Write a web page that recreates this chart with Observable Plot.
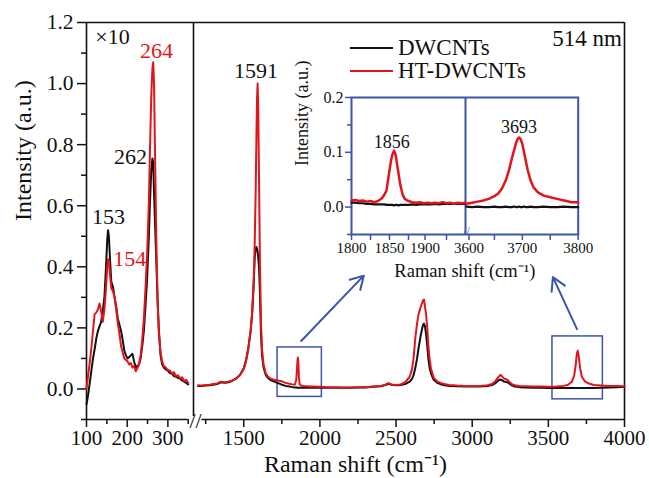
<!DOCTYPE html>
<html><head><meta charset="utf-8">
<script src="https://cdn.jsdelivr.net/npm/d3@7"></script>
<script src="https://cdn.jsdelivr.net/npm/@observablehq/plot@0.6"></script>
<style>
html,body{margin:0;padding:0;background:#fff;}
#wrap{position:relative;width:649px;height:478px;font-family:"Liberation Serif","Times New Roman",serif;}
#wrap svg{position:absolute;left:0;top:0;}
.legend{position:absolute;left:350px;top:36px;font-size:23px;line-height:23.4px;color:#111;}
.legend div{display:flex;align-items:center;height:23.4px;}
.legend .sw{display:inline-block;width:43px;height:2px;margin-right:5px;}
</style></head><body><div id="wrap"></div>
<script>
// ---------- data ----------
const seriesNames = ["DWCNTs", "HT-DWCNTs"];
const seriesColors = ["#111111", "#e3151c"];
const boxColor = "#3a56a8";

// low-frequency (RBM) region, shown x10
const lowShift = [100,104,108,112,116,120,124,128,132,136,140,144,148,151,153,155,158,161,165,169,173,177,181,185,189,193,197,201,205,209,213,217,221,225,229,233,237,241,245,249,253,256,259,262,264,266,269,272,275,278,282,286,290,295,300,305,310,315,320,325,330,335,340,345,350];
const lowDW = [-0.05,-0.02,0.02,0.06,0.10,0.13,0.165,0.19,0.205,0.22,0.255,0.30,0.40,0.49,0.52,0.50,0.42,0.35,0.335,0.30,0.27,0.23,0.21,0.19,0.16,0.125,0.11,0.10,0.105,0.11,0.115,0.09,0.07,0.075,0.08,0.10,0.14,0.19,0.27,0.36,0.49,0.61,0.71,0.755,0.74,0.64,0.52,0.40,0.28,0.19,0.11,0.08,0.07,0.064,0.06,0.052,0.05,0.042,0.04,0.036,0.034,0.028,0.024,0.02,0.015];
const lowHT = [0.0,0.045,0.085,0.135,0.19,0.245,0.25,0.26,0.28,0.255,0.22,0.26,0.33,0.40,0.425,0.42,0.37,0.33,0.32,0.30,0.26,0.215,0.18,0.14,0.12,0.10,0.095,0.09,0.08,0.085,0.07,0.075,0.058,0.068,0.08,0.11,0.16,0.23,0.33,0.44,0.60,0.78,0.95,1.05,1.07,1.0,0.72,0.46,0.28,0.18,0.12,0.09,0.075,0.07,0.062,0.06,0.05,0.055,0.042,0.045,0.035,0.038,0.026,0.03,0.02];

// high-frequency region
const highShift = [1200,1225,1250,1275,1300,1325,1350,1375,1400,1425,1450,1475,1500,1515,1530,1545,1555,1565,1572,1578,1583,1587,1591,1595,1600,1606,1613,1620,1630,1645,1660,1680,1700,1725,1750,1775,1800,1820,1835,1845,1850,1853,1856,1859,1862,1867,1875,1890,1910,1930,1960,2000,2050,2100,2150,2200,2250,2300,2350,2400,2430,2450,2470,2500,2530,2560,2590,2605,2615,2627,2638,2648,2660,2670,2677,2683,2690,2697,2705,2712,2720,2730,2747,2770,2800,2850,2900,2950,3000,3050,3100,3130,3150,3170,3185,3195,3210,3230,3245,3260,3280,3310,3350,3400,3450,3500,3550,3600,3630,3655,3670,3680,3687,3693,3700,3708,3720,3740,3770,3800,3850,3900,3950,4000];
const highDW = [0.010,0.010,0.011,0.012,0.014,0.016,0.022,0.020,0.022,0.027,0.034,0.046,0.068,0.095,0.135,0.19,0.245,0.34,0.43,0.46,0.465,0.46,0.45,0.43,0.40,0.32,0.18,0.11,0.07,0.045,0.035,0.028,0.024,0.019,0.014,0.010,0.008,0.006,0.005,0.005,0.004,0.004,0.004,0.004,0.004,0.004,0.004,0.004,0.004,0.004,0.004,0.004,0.004,0.004,0.004,0.004,0.005,0.005,0.007,0.009,0.013,0.017,0.014,0.012,0.013,0.016,0.024,0.033,0.045,0.07,0.10,0.135,0.17,0.195,0.21,0.214,0.205,0.18,0.14,0.10,0.07,0.05,0.03,0.02,0.014,0.010,0.009,0.008,0.008,0.008,0.010,0.013,0.018,0.027,0.031,0.029,0.024,0.022,0.017,0.012,0.008,0.006,0.005,0.004,0.004,0.003,0.003,0.003,0.003,0.003,0.003,0.003,0.003,0.003,0.003,0.003,0.003,0.003,0.003,0.003,0.004,0.005,0.006,0.007];
const highHT = [0.012,0.011,0.013,0.014,0.016,0.018,0.024,0.022,0.024,0.028,0.034,0.045,0.065,0.09,0.13,0.19,0.25,0.35,0.48,0.64,0.82,0.95,1.0,0.92,0.70,0.42,0.22,0.13,0.08,0.05,0.04,0.033,0.030,0.028,0.025,0.020,0.017,0.015,0.014,0.030,0.070,0.095,0.103,0.080,0.040,0.016,0.011,0.010,0.009,0.008,0.008,0.007,0.006,0.006,0.005,0.005,0.006,0.006,0.008,0.010,0.014,0.019,0.015,0.013,0.015,0.022,0.040,0.065,0.10,0.17,0.215,0.245,0.265,0.28,0.29,0.293,0.27,0.245,0.20,0.14,0.10,0.065,0.037,0.025,0.018,0.013,0.011,0.010,0.010,0.010,0.012,0.016,0.024,0.038,0.046,0.042,0.034,0.030,0.023,0.016,0.012,0.010,0.009,0.008,0.008,0.007,0.008,0.010,0.014,0.024,0.045,0.080,0.115,0.125,0.105,0.070,0.040,0.025,0.017,0.013,0.011,0.010,0.010,0.009];

// inset (zoom of the two new bands)
const insetLShift = [1800,1805,1810,1815,1820,1825,1830,1835,1840,1843,1846,1849,1852,1854,1856,1858,1860,1862,1864,1867,1870,1875,1880,1885,1890,1895,1900,1905,1910,1915,1920,1925,1930,1935,1940,1945,1950];
const insetLDW = [0.008,0.008,0.007,0.007,0.006,0.006,0.005,0.005,0.005,0.005,0.004,0.004,0.004,0.004,0.003,0.004,0.004,0.003,0.004,0.004,0.004,0.004,0.005,0.004,0.005,0.005,0.005,0.005,0.006,0.005,0.006,0.006,0.006,0.006,0.006,0.006,0.006];
const insetLHT = [0.012,0.013,0.011,0.012,0.010,0.011,0.009,0.011,0.016,0.022,0.030,0.058,0.085,0.097,0.103,0.096,0.078,0.060,0.042,0.024,0.015,0.011,0.009,0.008,0.009,0.007,0.008,0.007,0.008,0.007,0.009,0.007,0.008,0.006,0.008,0.007,0.008];
const insetRShift = [3600,3610,3620,3630,3640,3650,3657,3664,3670,3676,3681,3685,3689,3692,3694,3697,3700,3703,3706,3710,3715,3720,3728,3738,3750,3762,3775,3788,3800];
const insetRDW = [0.001,0.0,0.001,0.0,0.0,0.001,0.0,0.0,0.001,0.0,0.0,0.001,0.0,0.0,0.001,0.0,0.0,0.001,0.0,0.0,0.001,0.0,0.0,0.001,0.0,0.0,0.001,0.0,0.0];
const insetRHT = [0.006,0.008,0.010,0.012,0.015,0.020,0.025,0.035,0.048,0.067,0.088,0.103,0.118,0.125,0.127,0.124,0.115,0.100,0.085,0.066,0.048,0.036,0.027,0.021,0.018,0.015,0.012,0.009,0.009];

// axis ticks
const mainMajorX = [100,200,300,1500,2000,2500,3000,3500,4000];
const mainMinorX = [150,250,350,1250,1750,2250,2750,3250,3750];
const mainMajorY = [0,0.2,0.4,0.6,0.8,1.0,1.2];
const mainMinorY = [-0.1,0.1,0.3,0.5,0.7,0.9,1.1];
const insetLeftTicks = [1800,1850];
const insetBreakLeftTick = [1900];
const insetBreakRightTick = [3600];
const insetRightTicks = [3700,3800];
const insetMinorX = [1825,1875,1925,3650,3750];
const insetMajorY = [0,0.1,0.2];
const insetMinorY = [-0.05,0.05,0.15];

// annotations (data units)
const peakLabels = [
  {t:"153", x:154, y:0.562, c:0},
  {t:"262", x:208, y:0.759, c:0},
  {t:"264", x:272, y:1.107, c:1},
  {t:"154", x:206, y:0.427, c:1},
  {t:"1591", x:1581, y:1.041, c:0}
];
const zoomBoxes = [
  {x1:1722, x2:2013, y1:-0.026, y2:0.136},
  {x1:3527, x2:3858, y1:-0.034, y2:0.172}
];
const zoomArrows = [
  {x1:1877, y1:0.157, x2:2288, y2:0.371},
  {x1:3688, y1:0.196, x2:3530, y2:0.366}
];
const insetLabels = [
  {t:"1856", x:1853, y:0.118},
  {t:"3693", x:3694, y:0.145}
];

// ---------- build ----------
const fontFam = '"Liberation Serif","Times New Roman",serif';
const rows = (xs, ys, s, part) => xs.map((x, i) => ({x, y: ys[i], s, part}));
const mainDW = [...rows(lowShift, lowDW, 0, "low"), ...rows(highShift, highDW, 0, "high")];
const mainHT = [...rows(lowShift, lowHT, 1, "low"), ...rows(highShift, highHT, 1, "high")];
const insDW = [...rows(insetLShift, insetLDW, 0, "l"), ...rows(insetRShift, insetRDW, 0, "r")];
const insHT = [...rows(insetLShift, insetLHT, 1, "l"), ...rows(insetRShift, insetRHT, 1, "r")];

const main = Plot.plot({
  width: 649, height: 478,
  marginLeft: 86, marginRight: 25, marginTop: 22, marginBottom: 59,
  x: {type: "linear", domain: [100, 363, 1170, 4000], range: [86, 193, 193, 624], label: null},
  y: {domain: [-0.1, 1.2], label: null},
  style: {fontFamily: fontFam, fontSize: "21px", color: "#111", background: "white", overflow: "visible"},
  marks: [
    Plot.ruleY([1.2], {x1: 100, x2: 4000, strokeWidth: 1.6}),
    Plot.ruleY([-0.1], {x1: 100, x2: 350, strokeWidth: 1.6}),
    Plot.ruleY([-0.1], {x1: 1225, x2: 4000, strokeWidth: 1.6}),
    Plot.ruleX([100], {y1: -0.1, y2: 1.2, strokeWidth: 1.6}),
    Plot.ruleX([4000], {y1: -0.1, y2: 1.2, strokeWidth: 1.6}),
    Plot.ruleX([1170], {y1: -0.09, y2: 1.2, strokeWidth: 1.6}),
    Plot.text([{x: 1170, y: -0.1}], {x: "x", y: "y", text: () => "//", fontSize: 22, dx: 2, dy: 1}),
    Plot.axisX(mainMajorX, {anchor: "bottom", tickSize: 8, tickPadding: 3, strokeWidth: 1.5, tickFormat: d3.format("d"), fontSize: 21, label: null}),
    Plot.axisX(mainMinorX, {anchor: "bottom", tickSize: 5, strokeWidth: 1.5, fill: "none", label: null}),
    Plot.axisY(mainMajorY, {anchor: "left", tickSize: 9, tickPadding: 4, strokeWidth: 1.5, tickFormat: d3.format(".1f"), fontSize: 21.5, label: null}),
    Plot.axisY(mainMinorY, {anchor: "left", tickSize: 5, strokeWidth: 1.5, fill: "none", label: null}),
    Plot.text(["Raman shift (cm\u207B\u00B9)"], {frameAnchor: "bottom", text: d => d, dy: 45, lineAnchor: "middle", fontSize: 24}),
    Plot.text(["Intensity (a.u.)"], {frameAnchor: "left", text: d => d, rotate: -90, dx: -63, lineAnchor: "middle", fontSize: 24}),
    Plot.rect(zoomBoxes, {x1: "x1", x2: "x2", y1: "y1", y2: "y2", fill: "none", stroke: boxColor, strokeWidth: 1.5}),
    Plot.arrow(zoomArrows, {x1: "x1", y1: "y1", x2: "x2", y2: "y2", stroke: boxColor, strokeWidth: 2, headLength: 11}),
    Plot.line(mainDW, {x: "x", y: "y", z: "part", stroke: seriesColors[0], strokeWidth: 2}),
    Plot.line(mainHT, {x: "x", y: "y", z: "part", stroke: seriesColors[1], strokeWidth: 2}),
    Plot.text(peakLabels, {x: "x", y: "y", text: "t", fill: d => seriesColors[d.c], fontSize: 22}),
    Plot.text([{x: 164, y: 1.153}], {x: "x", y: "y", text: () => "\u00D710", fontSize: 22}),
    Plot.text([{x: 3755, y: 1.146}], {x: "x", y: "y", text: () => "514 nm", fontSize: 23})
  ]
});

const insetTickOpts = {anchor: "bottom", tickSize: 6, tickPadding: 2, stroke: boxColor, fill: "#111", strokeWidth: 1.5, tickFormat: d3.format("d"), fontSize: 15, label: null};
const inset = Plot.plot({
  width: 310, height: 200,
  marginLeft: 71, marginRight: 12.3, marginTop: 12, marginBottom: 51,
  x: {type: "linear", domain: [1800, 1950, 3600, 3800], range: [71, 185, 186, 297.7], label: null},
  y: {domain: [-0.05, 0.2], label: null},
  style: {fontFamily: fontFam, fontSize: "15px", color: "#111", background: "transparent", overflow: "visible"},
  marks: [
    Plot.frame({stroke: boxColor, strokeWidth: 2}),
    Plot.ruleX([1950], {stroke: boxColor, strokeWidth: 2}),
    Plot.text([{x: 1950, y: -0.05}], {x: "x", y: "y", text: () => "//", fill: boxColor, fontSize: 12, dx: 1, dy: -3}),
    Plot.axisX(insetLeftTicks, insetTickOpts),
    Plot.axisX(insetRightTicks, insetTickOpts),
    Plot.axisX(insetBreakLeftTick, {...insetTickOpts, dx: -2.5}),
    Plot.axisX(insetBreakRightTick, {...insetTickOpts, dx: 2.5}),
    Plot.axisX(insetMinorX, {anchor: "bottom", tickSize: 6, stroke: boxColor, fill: "none", strokeWidth: 1.5, label: null}),
    Plot.axisY(insetMajorY, {anchor: "left", tickSize: 6, tickPadding: 2, stroke: boxColor, fill: "#111", strokeWidth: 1.5, tickFormat: d3.format(".1f"), fontSize: 16, label: null}),
    Plot.axisY(insetMinorY, {anchor: "left", tickSize: 4, stroke: boxColor, fill: "none", strokeWidth: 1.5, label: null}),
    Plot.text(["Raman shift (cm\u207B\u00B9)"], {frameAnchor: "bottom", text: d => d, dy: 37, lineAnchor: "middle", fontSize: 18.5}),
    Plot.text(["Intensity (a.u.)"], {frameAnchor: "left", text: d => d, rotate: -90, dx: -49, lineAnchor: "middle", fontSize: 18}),
    Plot.line(insDW, {x: "x", y: "y", z: "part", stroke: seriesColors[0], strokeWidth: 2.2}),
    Plot.line(insHT, {x: "x", y: "y", z: "part", stroke: seriesColors[1], strokeWidth: 2.5}),
    Plot.text(insetLabels, {x: "x", y: "y", text: "t", fontSize: 18})
  ]
});
inset.style.left = "280px";
inset.style.top = "85px";

const wrap = document.getElementById("wrap");
wrap.appendChild(main);
wrap.appendChild(inset);

const legend = document.createElement("div");
legend.className = "legend";
seriesNames.forEach((n, i) => {
  const row = document.createElement("div");
  const sw = document.createElement("span");
  sw.className = "sw";
  sw.style.background = seriesColors[i];
  row.appendChild(sw);
  row.appendChild(document.createTextNode(n));
  legend.appendChild(row);
});
wrap.appendChild(legend);
</script></body></html>
